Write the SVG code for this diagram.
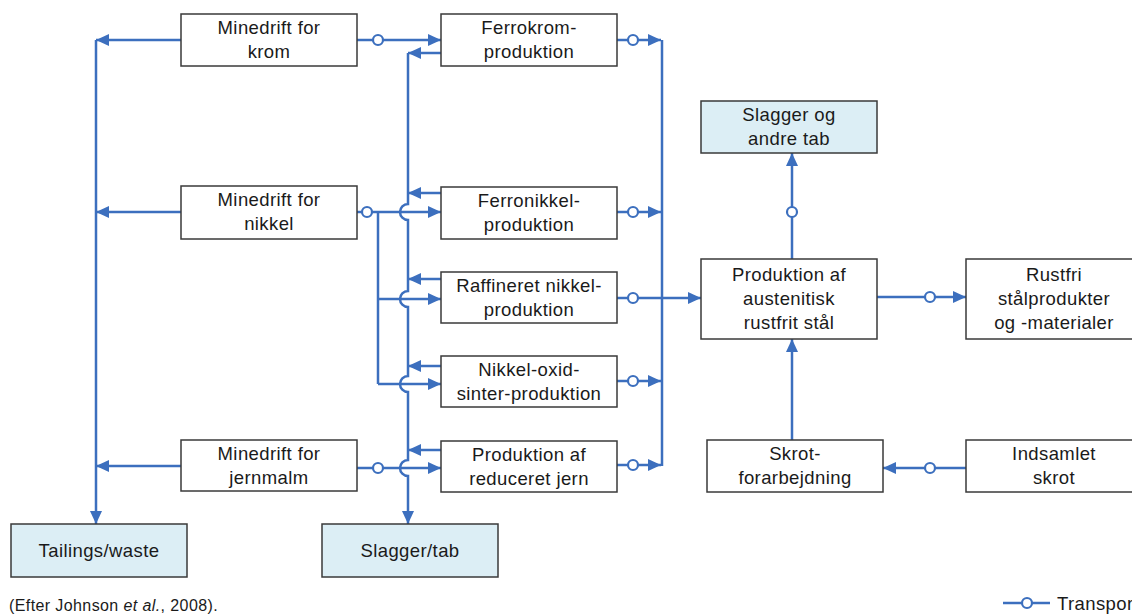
<svg xmlns="http://www.w3.org/2000/svg" width="1132" height="615" viewBox="0 0 1132 615">
  <style>
    .box { fill: #ffffff; stroke: #3a3a3a; stroke-width: 1.5; }
    .loss { fill: #dceef5; stroke: #3a3a3a; stroke-width: 1.5; }
    .lbl { font-family: "Liberation Sans", Arial, sans-serif; font-size: 18.5px; letter-spacing: 0.4px; fill: #1a1a1a; text-anchor: middle; }
    .flow { fill: none; stroke: #3c6fbe; stroke-width: 2.5; }
    .arr { marker-end: url(#head); }
    .stop { fill: #ffffff; stroke: #3c6fbe; stroke-width: 2.2; }
    .note { font-family: "Liberation Sans", Arial, sans-serif; font-size: 16px; letter-spacing: 0.4px; fill: #1a1a1a; }
  </style>
  <defs>
    <marker id="head" markerUnits="userSpaceOnUse" markerWidth="14" markerHeight="12" refX="13" refY="6" orient="auto">
      <path d="M0,0 L13,6 L0,12 Z" fill="#3c6fbe"/>
    </marker>
  </defs>

  <!-- connectors -->
  <g id="connectors">
    <!-- tailings trunk -->
    <path class="flow arr" d="M96,40 V524"/>
    <path class="flow arr" d="M181,40 H96"/>
    <path class="flow arr" d="M181,212 H96"/>
    <path class="flow arr" d="M181,466 H96"/>

    <!-- ore to processing -->
    <path class="flow arr" d="M357,40 H441"/>
    <path class="flow arr" d="M357,212 H441"/>
    <path class="flow" d="M378,212 V384"/>
    <path class="flow arr" d="M378,299 H441"/>
    <path class="flow arr" d="M378,384 H441"/>
    <path class="flow arr" d="M357,468 H441"/>

    <!-- slag trunk with hops -->
    <path class="flow arr" d="M408,53 V204 A8,8 0 0 0 408,220 V291 A8,8 0 0 0 408,307 V376 A8,8 0 0 0 408,392 V460 A8,8 0 0 0 408,476 V524"/>
    <path class="flow arr" d="M441,53 H408"/>
    <path class="flow arr" d="M441,193 H408"/>
    <path class="flow arr" d="M441,279 H408"/>
    <path class="flow arr" d="M441,366 H408"/>
    <path class="flow arr" d="M441,450 H408"/>

    <!-- products to steelmaking -->
    <path class="flow" d="M662,40 V466"/>
    <path class="flow arr" d="M617,40 H661"/>
    <path class="flow arr" d="M617,212 H661"/>
    <path class="flow arr" d="M617,298 H701"/>
    <path class="flow arr" d="M617,381 H661"/>
    <path class="flow arr" d="M617,465 H661"/>

    <!-- steelmaking outputs and scrap -->
    <path class="flow arr" d="M792,259 V153"/>
    <path class="flow arr" d="M877,297 H966"/>
    <path class="flow arr" d="M792,440 V339"/>
    <path class="flow arr" d="M966,468 H883"/>

    <!-- transport markers -->
    <circle class="stop" cx="378" cy="40" r="5"/>
    <circle class="stop" cx="367" cy="212" r="5"/>
    <circle class="stop" cx="378" cy="468" r="5"/>
    <circle class="stop" cx="633" cy="40" r="5"/>
    <circle class="stop" cx="633" cy="212" r="5"/>
    <circle class="stop" cx="633" cy="298" r="5"/>
    <circle class="stop" cx="633" cy="381" r="5"/>
    <circle class="stop" cx="633" cy="465" r="5"/>
    <circle class="stop" cx="792" cy="212" r="5"/>
    <circle class="stop" cx="930" cy="297" r="5"/>
    <circle class="stop" cx="930" cy="468" r="5"/>
  </g>

  <!-- mining -->
  <g id="mine-krom">
    <rect class="box" x="181" y="14" width="176" height="52"/>
    <text class="lbl" x="269" y="34">Minedrift for</text>
    <text class="lbl" x="269" y="58">krom</text>
  </g>
  <g id="mine-nikkel">
    <rect class="box" x="181" y="186" width="176" height="53"/>
    <text class="lbl" x="269" y="206">Minedrift for</text>
    <text class="lbl" x="269" y="230">nikkel</text>
  </g>
  <g id="mine-jern">
    <rect class="box" x="181" y="440" width="176" height="51"/>
    <text class="lbl" x="269" y="460">Minedrift for</text>
    <text class="lbl" x="269" y="484">jernmalm</text>
  </g>

  <!-- processing -->
  <g id="ferrokrom">
    <rect class="box" x="441" y="14" width="176" height="52"/>
    <text class="lbl" x="529" y="34">Ferrokrom-</text>
    <text class="lbl" x="529" y="58">produktion</text>
  </g>
  <g id="ferronikkel">
    <rect class="box" x="441" y="187" width="176" height="52"/>
    <text class="lbl" x="529" y="207">Ferronikkel-</text>
    <text class="lbl" x="529" y="231">produktion</text>
  </g>
  <g id="raffineret">
    <rect class="box" x="441" y="272" width="176" height="51"/>
    <text class="lbl" x="529" y="292">Raffineret nikkel-</text>
    <text class="lbl" x="529" y="316">produktion</text>
  </g>
  <g id="nikkeloxid">
    <rect class="box" x="441" y="356" width="176" height="51"/>
    <text class="lbl" x="529" y="376">Nikkel-oxid-</text>
    <text class="lbl" x="529" y="400">sinter-produktion</text>
  </g>
  <g id="reduceret-jern">
    <rect class="box" x="441" y="441" width="176" height="51"/>
    <text class="lbl" x="529" y="461">Produktion af</text>
    <text class="lbl" x="529" y="485">reduceret jern</text>
  </g>

  <!-- losses -->
  <g id="tailings">
    <rect class="loss" x="11" y="524" width="176" height="53"/>
    <text class="lbl" x="99" y="557">Tailings/waste</text>
  </g>
  <g id="slagger-tab">
    <rect class="loss" x="322" y="524" width="176" height="53"/>
    <text class="lbl" x="410" y="557">Slagger/tab</text>
  </g>
  <g id="slagger-andre">
    <rect class="loss" x="701" y="101" width="176" height="52"/>
    <text class="lbl" x="789" y="121">Slagger og</text>
    <text class="lbl" x="789" y="145">andre tab</text>
  </g>

  <!-- steelmaking -->
  <g id="austenitisk">
    <rect class="box" x="701" y="259" width="176" height="80"/>
    <text class="lbl" x="789" y="281">Produktion af</text>
    <text class="lbl" x="789" y="305">austenitisk</text>
    <text class="lbl" x="789" y="329">rustfrit stål</text>
  </g>
  <g id="rustfri">
    <rect class="box" x="966" y="259" width="176" height="80"/>
    <text class="lbl" x="1054" y="281">Rustfri</text>
    <text class="lbl" x="1054" y="305">stålprodukter</text>
    <text class="lbl" x="1054" y="329">og -materialer</text>
  </g>
  <g id="skrot-forarb">
    <rect class="box" x="707" y="440" width="176" height="52"/>
    <text class="lbl" x="795" y="460">Skrot-</text>
    <text class="lbl" x="795" y="484">forarbejdning</text>
  </g>
  <g id="indsamlet">
    <rect class="box" x="966" y="440" width="176" height="52"/>
    <text class="lbl" x="1054" y="460">Indsamlet</text>
    <text class="lbl" x="1054" y="484">skrot</text>
  </g>

  <!-- source note and legend -->
  <text class="note" x="9" y="611">(Efter Johnson <tspan font-style="italic">et al.</tspan>, 2008).</text>
  <g id="legend">
    <path class="flow" d="M1003,603 H1050"/>
    <circle class="stop" cx="1027" cy="603" r="5"/>
    <text class="lbl" x="1057" y="610" style="text-anchor:start">Transport</text>
  </g>
</svg>
